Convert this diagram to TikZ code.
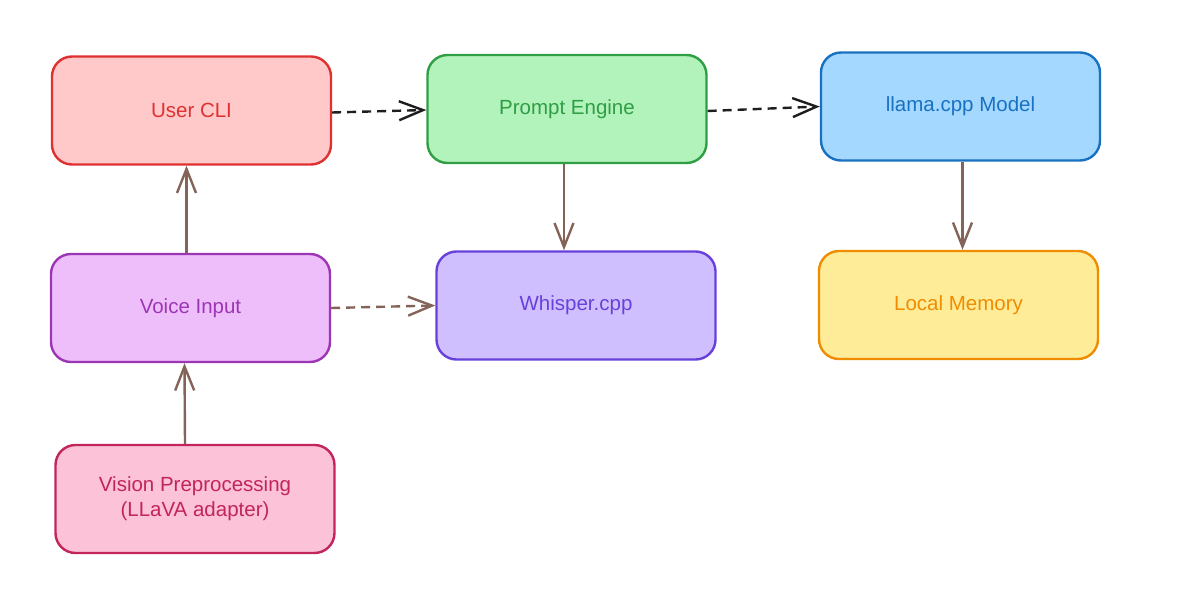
\documentclass[tikz,border=0pt]{standalone}
\usepackage{fontspec}
\setmainfont{Liberation Sans}
\usetikzlibrary{arrows.meta}
\definecolor{redS}{HTML}{E03131}\definecolor{redF}{HTML}{FFC9C9}
\definecolor{grnS}{HTML}{2F9E44}\definecolor{grnF}{HTML}{B2F2BB}
\definecolor{bluS}{HTML}{1971C2}\definecolor{bluF}{HTML}{A5D8FF}
\definecolor{vioS}{HTML}{9C36B5}\definecolor{vioF}{HTML}{EEBEFA}
\definecolor{purS}{HTML}{6741D9}\definecolor{purF}{HTML}{D0BFFF}
\definecolor{ylwS}{HTML}{F08C00}\definecolor{ylwF}{HTML}{FFEC99}
\definecolor{pnkS}{HTML}{C2255C}\definecolor{pnkF}{HTML}{FCC2D7}
\definecolor{brn}{HTML}{846358}
\definecolor{ink}{HTML}{1E1E1E}
\tikzset{
  blk/.style 2 args={draw=#1, fill=#2, text=#1, line width=2.4pt, rounded corners=20pt,
    minimum width=279pt, minimum height=108pt, align=center,
    font=\fontsize{20.5}{25}\selectfont},
  flow/.style={draw=brn, line width=2.4pt, -{Straight Barb[length=24pt,width=19pt,line width=2.4pt]}},
  call/.style={flow, draw=ink, dash pattern=on 9pt off 6pt}
}
\begin{document}
\begin{tikzpicture}[x=1pt, y=-1pt]
\useasboundingbox (0,0) rectangle (1177,612);
\node[blk={redS}{redF}] (cli) at (191.5,110.5) {User CLI};
\node[blk={grnS}{grnF}] (prompt) at (567,109) {Prompt Engine};
\node[blk={bluS}{bluF}] (llama) at (960.5,106.5) {llama.cpp Model};
\node[blk={vioS}{vioF}] (voice) at (190.5,308) {Voice Input};
\node[blk={purS}{purF}] (whisper) at (576,305.5) {Whisper.cpp};
\node[blk={ylwS}{ylwF}] (memory) at (958.5,305) {Local Memory};
\node[blk={pnkS}{pnkF}] (vision) at (195,499) {Vision Preprocessing\\(LLaVA adapter)};
% dashed calls along the top row
\draw[call] ([yshift=-2pt]cli.east) -- ([yshift=-1pt]prompt.west);
\draw[call] ([yshift=-2pt]prompt.east) -- (llama.west);
% solid flows
\draw[flow] ([xshift=-3pt]prompt.south) -- ([xshift=-3pt]prompt.south |- whisper.north);
\draw[flow] ([xshift=2pt]llama.south) -- ([xshift=2pt]llama.south |- memory.north);
\draw[flow] ([xshift=-4pt]voice.north) -- ([xshift=-5pt]cli.south);
\draw[flow] ([xshift=-10pt]vision.north) -- ([xshift=-6pt]voice.south);
\draw[flow, dash pattern=on 9pt off 6pt] (voice.east) -- (whisper.west);
\end{tikzpicture}
\end{document}
